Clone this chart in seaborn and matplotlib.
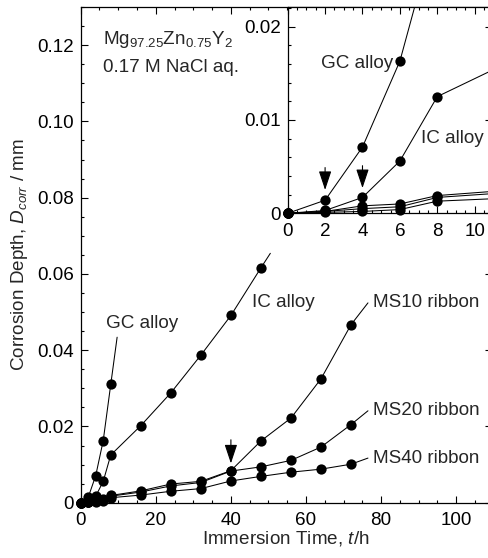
import numpy as np
import pandas as pd
import matplotlib
matplotlib.use("Agg")
import matplotlib.pyplot as plt
from matplotlib.ticker import MultipleLocator, FixedLocator, FuncFormatter
import seaborn as sns

# ---------------- data ----------------
t_gc = [0, 2, 4, 6, 8]
d_gc = [0, 0.0014, 0.0071, 0.0163, 0.0310]

t_ic = [0, 2, 4, 6, 8, 16, 24, 32, 40, 48]
d_ic = [0, 0.0003, 0.0017, 0.0056, 0.0125, 0.0202, 0.0288, 0.0387, 0.0491, 0.0616]

t_ms = [0, 2, 4, 6, 8, 16, 24, 32, 40, 48, 56, 64, 72]
d_ms10 = [0, 0.0002, 0.0008, 0.0010, 0.0019, 0.0031, 0.0049, 0.0056, 0.0084, 0.0162, 0.0222, 0.0325, 0.0467]
d_ms20 = [0, 0.0002, 0.0005, 0.0007, 0.0017, 0.0028, 0.0044, 0.0053, 0.0083, 0.0094, 0.0111, 0.0146, 0.0205]
d_ms40 = [0, 0.0001, 0.0002, 0.0004, 0.0013, 0.0020, 0.0030, 0.0037, 0.0057, 0.0069, 0.0080, 0.0088, 0.0101]

series_names = ["GC alloy", "IC alloy", "MS10 ribbon", "MS20 ribbon", "MS40 ribbon"]
main_ticks_x = [0, 20, 40, 60, 80, 100]
main_ticks_y = [0, 0.02, 0.04, 0.06, 0.08, 0.10, 0.12]
inset_ticks_x = [0, 2, 4, 6, 8, 10]
inset_ticks_y = [0, 0.01, 0.02]

frames = []
for name, t, d in [("GC alloy", t_gc, d_gc), ("IC alloy", t_ic, d_ic),
                   ("MS10 ribbon", t_ms, d_ms10), ("MS20 ribbon", t_ms, d_ms20),
                   ("MS40 ribbon", t_ms, d_ms40)]:
    frames.append(pd.DataFrame({"t": t, "d": d, "series": name}))
df = pd.concat(frames, ignore_index=True)

# ---------------- style ----------------
sns.set_theme(style="ticks")
plt.rcParams["font.family"] = ["Liberation Sans", "DejaVu Sans"]
plt.rcParams["mathtext.fontset"] = "custom"
plt.rcParams["mathtext.rm"] = "Liberation Sans"
plt.rcParams["mathtext.it"] = "Liberation Sans:italic"
plt.rcParams["mathtext.default"] = "regular"

FS = 13.6
W, H = 488, 558
fig = plt.figure(figsize=(W / 100, H / 100), dpi=100)

def px_axes(left, top, right, bottom):
    return [left / W, 1 - bottom / H, (right - left) / W, (bottom - top) / H]

ax = fig.add_axes(px_axes(80.7, 7, 491.5, 502.7))
axi = fig.add_axes(px_axes(287.7, 7, 491.5, 213.3))

MAIN_XLIM, MAIN_YLIM = (0, 109.4), (0, 0.13)
INS_XLIM, INS_YLIM = (0, 10.9), (0, 0.0221)

base_kw = dict(color="black", estimator=None, sort=False, legend=False)
mk = dict(marker="o", markersize=7.4, markeredgewidth=0)

# main panel: lines + markers (everything in range, so no clipping)
sns.lineplot(data=df, x="t", y="d", units="series", ax=ax, linewidth=0.75,
             clip_on=False, **mk, **base_kw)

# inset: lines clipped, markers inside range unclipped
sns.lineplot(data=df, x="t", y="d", units="series", ax=axi, linewidth=0.75,
             **base_kw)
df_in = df[(df.t <= INS_XLIM[1]) & (df.d <= INS_YLIM[1])]
sns.lineplot(data=df_in, x="t", y="d", units="series", ax=axi, linewidth=0,
             clip_on=False, **mk, **base_kw)

def style_axis(a, xlim, ylim, xt, yt, xminor, yminor):
    a.set_xlim(*xlim)
    a.set_ylim(*ylim)
    a.xaxis.set_major_locator(FixedLocator(xt))
    a.yaxis.set_major_locator(FixedLocator(yt))
    a.xaxis.set_minor_locator(MultipleLocator(xminor))
    a.yaxis.set_minor_locator(MultipleLocator(yminor))
    a.yaxis.set_major_formatter(FuncFormatter(lambda v, p: "0" if v == 0 else f"{v:.2f}"))
    a.xaxis.set_major_formatter(FuncFormatter(lambda v, p: f"{v:g}"))
    a.tick_params(which="both", direction="in", top=True, right=True,
                  labelsize=FS, colors="black", width=0.8)
    a.tick_params(which="major", length=5)
    a.tick_params(which="minor", length=2.5)
    a.tick_params(axis="x", pad=7)
    a.tick_params(axis="y", pad=5)
    for s in a.spines.values():
        s.set_linewidth(0.9)
        s.set_color("black")
        s.set_visible(True)
    a.set_xlabel("")
    a.set_ylabel("")
    a.set_facecolor("white")

style_axis(ax, MAIN_XLIM, MAIN_YLIM, main_ticks_x, main_ticks_y, 5, 0.005)
style_axis(axi, INS_XLIM, INS_YLIM, inset_ticks_x, inset_ticks_y, 0.5, 0.002)

ax.set_xlabel("Immersion Time, $\\mathit{t}$/h", fontsize=FS, labelpad=0)
ax.set_ylabel("Corrosion Depth, $\\mathit{D_{corr}}$ / mm", fontsize=FS, labelpad=5)

# composition text
ax.text(0.055, 0.9247, "Mg$_{97.25}$Zn$_{0.75}$Y$_{2}$", transform=ax.transAxes,
        fontsize=FS, ha="left", va="baseline")
ax.text(0.055, 0.8695, "0.17 M NaCl aq.", transform=ax.transAxes,
        fontsize=FS, ha="left", va="baseline")

lead = dict(arrowstyle="-", color="black", lw=0.75, shrinkA=0, shrinkB=0)
# main labels with leader lines
ax.annotate("", xy=(t_gc[-1], d_gc[-1]), xytext=(9.7, 0.0434), arrowprops=lead)
ax.text(6.7, 0.0469, series_names[0], fontsize=FS, ha="left", va="center")
ax.annotate("", xy=(t_ic[-1], d_ic[-1]), xytext=(50.5, 0.0654), arrowprops=lead)
ax.text(45.7, 0.0525, series_names[1], fontsize=FS, ha="left", va="center")
for name, d, yl in [(series_names[2], d_ms10, 0.0524),
                    (series_names[3], d_ms20, 0.0241),
                    (series_names[4], d_ms40, 0.0117)]:
    ax.annotate("", xy=(t_ms[-1], d[-1]), xytext=(76.5, yl), arrowprops=lead)
    ax.text(77.8, yl, name, fontsize=FS, ha="left", va="center")

arrow = dict(arrowstyle="-|>,head_length=0.9,head_width=0.3", color="black",
             lw=0.8, shrinkA=0, shrinkB=0, mutation_scale=13)
ax.annotate("", xy=(40, 0.0103), xytext=(40, 0.0165), arrowprops=arrow)

# inset labels and arrows
axi.text(1.8, 0.0161, series_names[0], fontsize=FS, ha="left", va="center")
axi.text(7.15, 0.0080, series_names[1], fontsize=FS, ha="left", va="center")
axi.annotate("", xy=(2, 0.0025), xytext=(2, 0.0049), arrowprops=arrow)
axi.annotate("", xy=(4, 0.0027), xytext=(4, 0.0051), arrowprops=arrow)

fig.savefig("out.png", dpi=100)
